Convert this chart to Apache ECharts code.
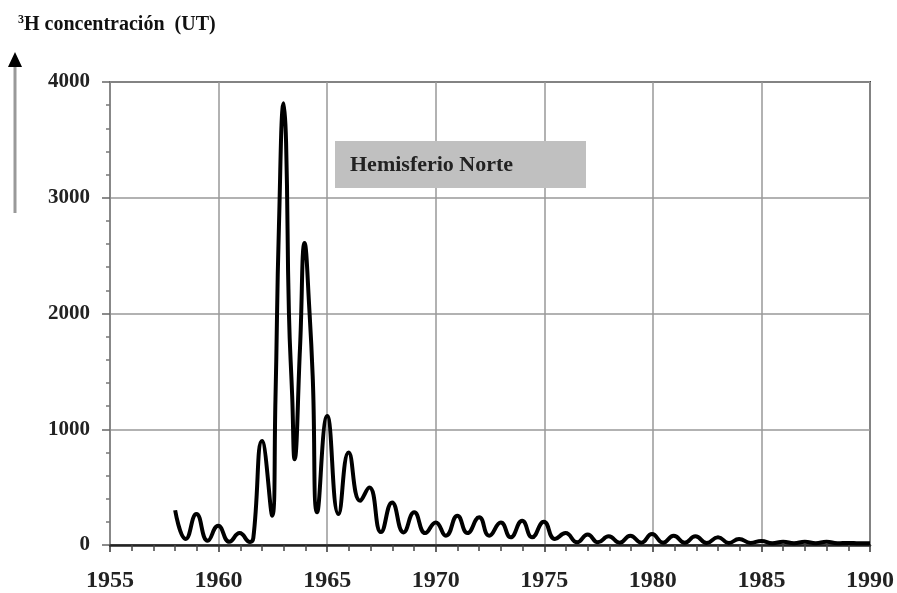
<!DOCTYPE html>
<html>
<head>
<meta charset="utf-8">
<script src="https://cdn.jsdelivr.net/npm/echarts@6/dist/echarts.min.js"></script>
<style>html,body{margin:0;padding:0;background:#fff;}#c{width:897px;height:593px;}</style>
</head>
<body>
<div id="c"></div>
<script>
// Data
var years = [1958.0, 1958.49, 1958.98, 1959.5, 1959.98, 1960.5, 1960.97, 1961.45, 1961.6,
  1962.0, 1962.47, 1962.62, 1962.78, 1963.0, 1963.11, 1963.24, 1963.39, 1963.5,
  1963.75, 1963.96, 1964.19, 1964.34, 1964.54, 1965.0, 1965.52, 1965.99, 1966.52,
  1966.94, 1967.48, 1967.99, 1968.52, 1969.01, 1969.52, 1970.0, 1970.47, 1971.0,
  1971.46, 1972.0, 1972.46, 1973.0, 1973.45, 1973.98, 1974.44, 1974.98, 1975.49,
  1975.98, 1976.51, 1977.0, 1977.47, 1977.97, 1978.47, 1978.96, 1979.47, 1979.96,
  1980.47, 1980.96, 1981.47, 1981.96, 1982.48, 1983.0, 1983.5, 1983.97, 1984.5,
  1985.0, 1985.5, 1986.0, 1986.5, 1987.0, 1987.5, 1988.0, 1988.5, 1989.0, 1989.5, 1990.0];
var tritium = [300, 52, 267, 37, 166, 28, 103, 26, 60,
  899, 253, 1259, 2753, 3816, 3471, 2006, 1287, 741,
  1700, 2609, 2006, 1431, 282, 1115, 267, 799, 382,
  497, 112, 368, 109, 282, 103, 195, 80, 253,
  103, 239, 80, 195, 66, 210, 66, 201, 52,
  103, 23, 90, 23, 75, 20, 80, 20, 95,
  20, 80, 20, 75, 18, 68, 18, 52, 18,
  35, 15, 28, 15, 28, 15, 28, 15, 18, 15, 15];
var yearTicks = [1955, 1960, 1965, 1970, 1975, 1980, 1985, 1990];
var concTicks = [0, 1000, 2000, 3000, 4000];
var yTitle = 'H concentración  (UT)';
var boxText = 'Hemisferio Norte';

var seriesData = years.map(function (y, i) { return [y, tritium[i]]; });
var serif = '"Liberation Serif", "Times New Roman", serif';

var chart = echarts.init(document.getElementById('c'), null, {renderer: 'canvas'});
chart.setOption({
  animation: false,
  backgroundColor: '#fff',
  grid: {left: 110, right: 25, top: 82, bottom: 47, show: true,
         borderColor: '#444', borderWidth: 2, backgroundColor: 'transparent'},
  xAxis: {
    type: 'value', min: yearTicks[0], max: yearTicks[yearTicks.length - 1], interval: 5,
    axisLine: {show: true, lineStyle: {color: '#222', width: 2.5}},
    axisTick: {show: true, length: 7, lineStyle: {color: '#333', width: 1.5}},
    minorTick: {show: true, splitNumber: 5, length: 6, lineStyle: {color: '#444', width: 1.5}},
    splitLine: {show: true, lineStyle: {color: '#999', width: 1.5}},
    axisLabel: {margin: 24, fontFamily: serif, fontWeight: 'bold', fontSize: 24, color: '#222',
      formatter: function (v) { return yearTicks.indexOf(v) >= 0 ? String(v) : ''; }}
  },
  yAxis: {
    type: 'value', min: concTicks[0], max: concTicks[concTicks.length - 1], interval: 1000,
    axisLine: {show: true, lineStyle: {color: '#888', width: 2}},
    axisTick: {show: true, length: 8, lineStyle: {color: '#666', width: 1.5}},
    minorTick: {show: true, splitNumber: 5, length: 4, lineStyle: {color: '#777', width: 1.5}},
    splitLine: {show: true, lineStyle: {color: '#999', width: 1.5}},
    axisLabel: {margin: 20, fontFamily: serif, fontWeight: 'bold', fontSize: 21, color: '#222',
      formatter: function (v) { return concTicks.indexOf(v) >= 0 ? String(v) : ''; }}
  },
  series: [{
    type: 'line', data: seriesData, smooth: 0.5, showSymbol: false, symbol: 'none',
    lineStyle: {color: '#000', width: 4}, z: 5
  }],
  graphic: [
    {type: 'text', left: 18, top: 14, style: {
      text: '{s|3}{t|' + yTitle + '}',
      rich: {
        s: {fontFamily: serif, fontWeight: 'bold', fontSize: 12, fill: '#111', verticalAlign: 'top', padding: [0, 0, 9, 0]},
        t: {fontFamily: serif, fontWeight: 'bold', fontSize: 20, fill: '#111'}
      }
    }},
    {type: 'line', shape: {x1: 15, y1: 66, x2: 15, y2: 213}, style: {stroke: '#999', lineWidth: 3}},
    {type: 'polygon', shape: {points: [[15, 52], [8, 67], [22, 67]]}, style: {fill: '#000'}},
    {type: 'rect', shape: {x: 335, y: 141, width: 251, height: 47}, style: {fill: '#c0c0c0'}, z: 10},
    {type: 'text', x: 350, y: 165, style: {text: boxText, fontFamily: serif, fontWeight: 'bold',
      fontSize: 22, fill: '#222', verticalAlign: 'middle'}, z: 11}
  ]
});
</script>
</body>
</html>
